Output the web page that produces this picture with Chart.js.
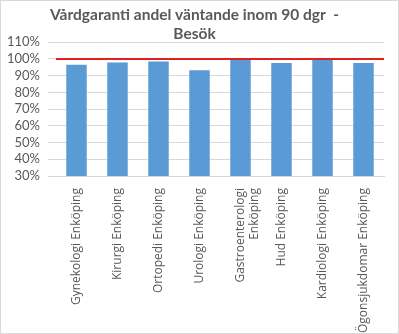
<!DOCTYPE html>
<html>
<head>
<meta charset="utf-8">
<script src="https://cdn.jsdelivr.net/npm/chart.js@4"></script>
<style>
  body { margin: 0; background: #fff; }
  #wrap { width: 399px; height: 334px; box-sizing: border-box; border: 1px solid #d9d9d9; }
</style>
</head>
<body>
<div id="wrap"><canvas id="vardgarantiChart" width="397" height="332"></canvas></div>
<script>
const units = [
    "Gynekologi Enköping", "Kirurgi Enköping", "Ortopedi Enköping", "Urologi Enköping",
    ["Gastroenterologi", "Enköping"], "Hud Enköping", "Kardiologi Enköping", "Ögonsjukdomar Enköping"
];
const andel = [96.5, 97.8, 98.4, 93.3, 100, 97.6, 100, 97.6];
const mal = [100, 100, 100, 100, 100, 100, 100, 100];
const yTicks = [30, 40, 50, 60, 70, 80, 90, 100, 110];

const textColor = "#595959";
const font = "Lato, 'Open Sans', sans-serif";

const ctx = document.getElementById("vardgarantiChart");

new Chart(ctx, {
    type: "bar",
    data: {
        labels: units,
        datasets: [{
            type: "line",
            label: "Mål",
            data: mal,
            xAxisID: "x2",
            borderColor: "#e0201f",
            borderWidth: 2,
            pointRadius: 0,
            order: 0
        }, {
            label: "Andel",
            data: andel,
            backgroundColor: "#5b9bd5",
            barPercentage: 0.5,
            categoryPercentage: 1,
            grouped: false,
            order: 1
        }]
    },
    options: {
        responsive: false,
        animation: false,
        layout: { padding: { top: 0, right: 14, left: 4, bottom: 0 } },
        plugins: {
            legend: { display: false },
            tooltip: { enabled: false },
            title: {
                display: true,
                text: ["Vårdgaranti andel väntande inom 90 dgr  -", "Besök"],
                color: textColor,
                font: { family: font, size: 15.5, weight: "bold" },
                padding: { top: 5, bottom: -1 },
                lineHeight: 1.3
            }
        },
        scales: {
            x: {
                grid: { display: false },
                border: { color: "#d9d9d9" },
                afterFit: axis => { axis.height = 157; },
                ticks: {
                    color: textColor,
                    font: { family: "'Open Sans', sans-serif", size: 12 },
                    maxRotation: 90,
                    minRotation: 90,
                    autoSkip: false,
                    padding: 4
                }
            },
            x2: {
                type: "category",
                labels: units,
                display: false,
                offset: false
            },
            y: {
                min: 30,
                max: 110,
                afterBuildTicks: axis => { axis.ticks = yTicks.map(v => ({ value: v })); },
                afterFit: axis => { axis.width = 51; },
                grid: { color: "#d9d9d9" },
                border: { display: false },
                ticks: {
                    color: textColor,
                    font: { family: font, size: 13 },
                    padding: 8,
                    autoSkip: false,
                    callback: v => v + "%"
                }
            }
        }
    }
});
</script>
</body>
</html>
